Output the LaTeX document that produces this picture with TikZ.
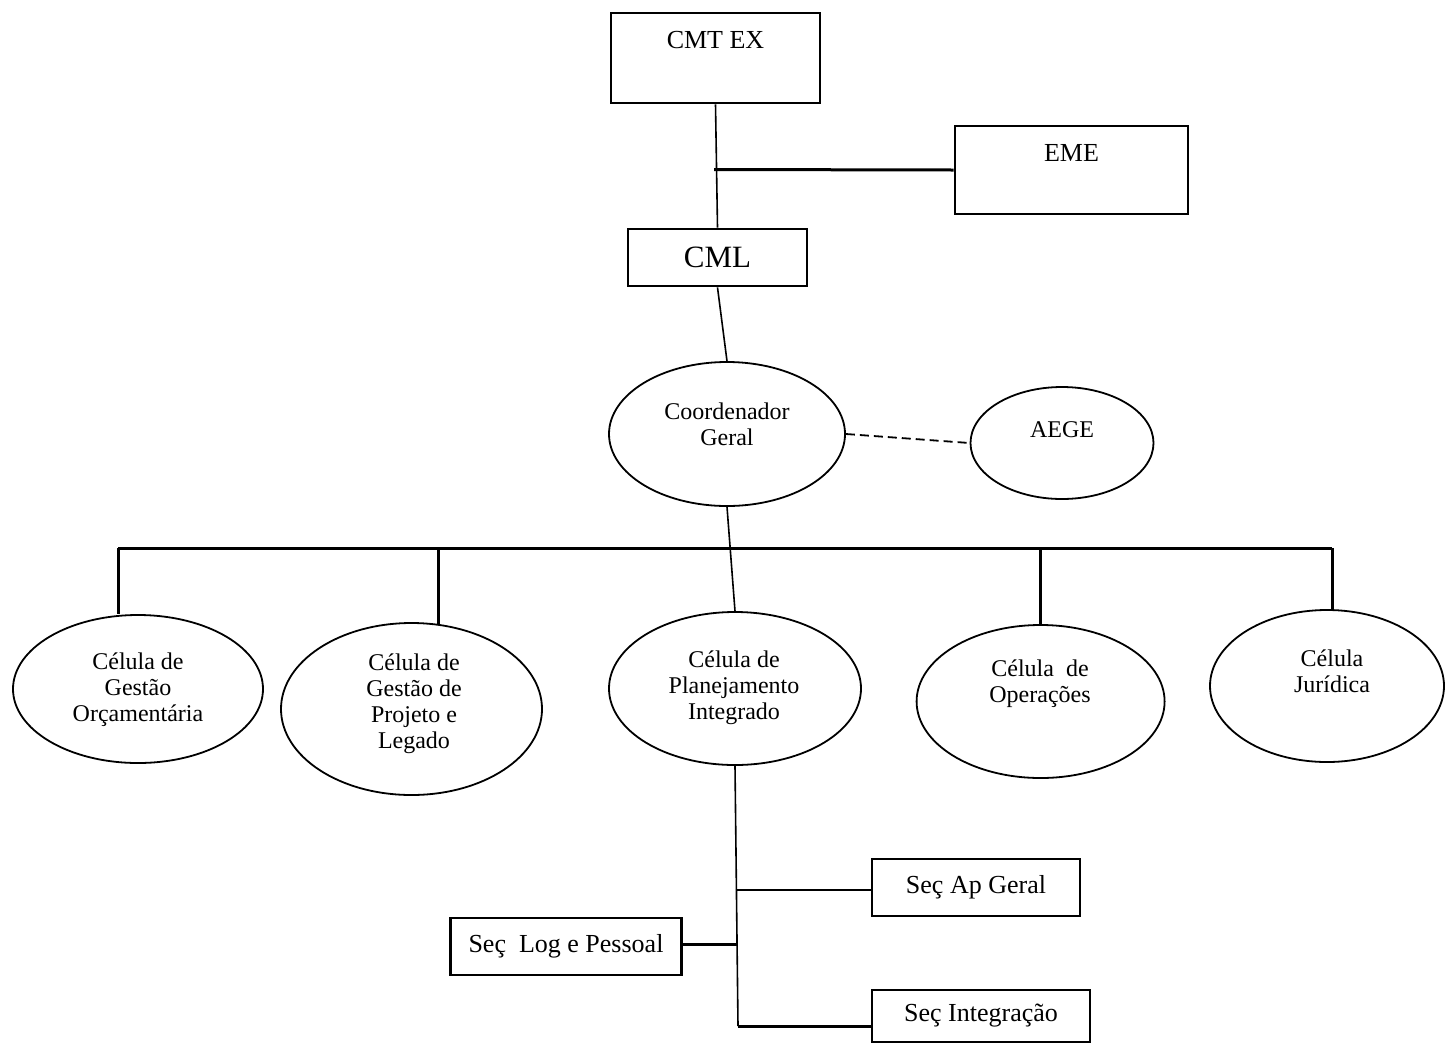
\documentclass[tikz,border=0pt]{standalone}
\usepackage{fontspec}
\setmainfont{Liberation Serif}
\usetikzlibrary{shapes.geometric}
\begin{document}
\begin{tikzpicture}[x=0.5pt,y=-0.5pt,
  box/.style={draw, line width=1.4pt, rectangle, inner sep=0pt},
  oval/.style={draw, line width=0.9pt, ellipse, inner sep=0pt},
  txt/.style={align=center, inner sep=0pt, font=\fontsize{12}{13}\selectfont},
  boxtxt/.style={align=center, inner sep=0pt, font=\fontsize{13}{15}\selectfont},
  thinline/.style={line width=0.8pt},
  heavyline/.style={line width=1.5pt},
  dashline/.style={line width=0.9pt, dash pattern=on 4.5pt off 2.5pt}
]
\useasboundingbox (0,0) rectangle (1446,1045);

% boxes
\node[box, minimum width=104.5pt, minimum height=45pt] (cmtex) at (715.5,58) {};
\node[boxtxt] (cmtexT) at (715.5,40) {CMT EX};
\node[box, minimum width=116.5pt, minimum height=44pt] (eme) at (1071.5,170) {};
\node[boxtxt] (emeT) at (1071.5,153) {EME};
\node[box, minimum width=89.5pt, minimum height=28.5pt, font=\fontsize{15.5}{18}\selectfont] (cml) at (717.5,257.5) {CML};

% ellipses
\node[oval, minimum width=118pt, minimum height=72pt] (coord) at (727,434) {};
\node[txt] (coordT) at (727,424.5) {Coordenador\\Geral};
\node[oval, minimum width=91.5pt, minimum height=56pt] (aege) at (1062,443) {};
\node[txt] (aegeT) at (1062,430) {AEGE};

\node[oval, minimum width=125pt, minimum height=74pt] (e1) at (138,689) {};
\node[txt] (e1T) at (138,690) {Célula de\\Gestão\\Orçamentária};
\node[oval, minimum width=130.5pt, minimum height=86pt] (e2) at (411.5,709) {};
\node[txt] (e2T) at (414,704) {Célula de\\Gestão de\\Projeto e\\Legado};
\node[oval, minimum width=126pt, minimum height=76.5pt] (e3) at (735,688.5) {};
\node[txt] (e3T) at (734,688) {Célula de\\Planejamento\\Integrado};
\node[oval, minimum width=124pt, minimum height=76.5pt] (e4) at (1040.6,701.5) {};
\node[txt] (e4T) at (1040,684) {Célula\ \ de\\Operações};
\node[oval, minimum width=117pt, minimum height=76pt] (e5) at (1327,686) {};
\node[txt] (e5T) at (1332,671) {Célula\\Jurídica};

% lower boxes
\node[box, minimum width=104pt, minimum height=28.5pt, boxtxt] (secap) at (976,887.5) {Seç Ap Geral};
\node[box, minimum width=115.25pt, minimum height=28.5pt, boxtxt] (secl) at (566,946.5) {Seç\ \ Log e Pessoal};
\node[box, minimum width=109pt, minimum height=26pt, boxtxt] (seci) at (981,1016) {Seç Integração};

% coordinates
\coordinate (j1) at (714,169.5);
\coordinate (bl) at (118,548);
\coordinate (br) at (1332,548);
\coordinate (d2) at (438.7,548);
\coordinate (jA) at (735.5,890);
\coordinate (jL) at (736.5,944);
\coordinate (jI) at (738,1026);

% connectors
\draw[thinline] (cmtex.south) -- (cml.north);
\draw[heavyline] (j1) -- (eme.west);
\draw[thinline] (cml.south) -- (coord.north);
\draw[dashline] (coord.east) -- (aege.west);
\draw[thinline] (coord.south) -- (e3.north);
\draw[heavyline] (bl) -- (br);
\draw[heavyline] (bl) -- (bl |- e1.north);
\draw[heavyline] (d2) -- ([yshift=-1pt]d2 |- e2.north);
\draw[heavyline] (e4.north |- bl) -- (e4.north);
\draw[heavyline] (br) -- (br |- e5.north);
\draw[thinline] (e3.south) -- (jI);
\draw[thinline] (jA) -- (jA -| secap.west);
\draw[heavyline] (secl.east |- jL) -- (jL);
\draw[heavyline] (jI) -- (jI -| seci.west);
\end{tikzpicture}
\end{document}
